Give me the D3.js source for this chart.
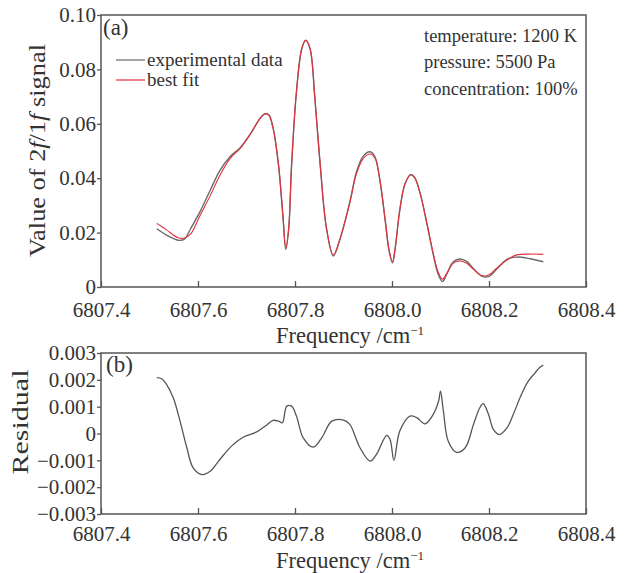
<!DOCTYPE html>
<html>
<head>
<meta charset="utf-8">
<script src="https://cdn.jsdelivr.net/npm/d3@7"></script>
<style>
  body { margin: 0; background: #fff; }
  svg text { font-family: "Liberation Serif", "Times New Roman", "DejaVu Serif", serif !important; fill: #333; }
</style>
</head>
<body>
<svg id="chart" width="630" height="573" font-family="Liberation Serif"></svg>
<script>
// Data
// (a) spectrum: shared frequency grid, fitted curve and measured curve
var freq = [6807.515, 6807.535, 6807.559, 6807.572, 6807.585, 6807.604, 6807.625, 6807.645, 6807.666, 6807.687,
            6807.707, 6807.728, 6807.738, 6807.746, 6807.755, 6807.766, 6807.775, 6807.781, 6807.787, 6807.793,
            6807.803, 6807.814, 6807.822, 6807.831, 6807.841, 6807.852, 6807.865, 6807.879, 6807.893, 6807.913,
            6807.927, 6807.941, 6807.955, 6807.965, 6807.975, 6807.986, 6807.994, 6808.001, 6808.006, 6808.016,
            6808.027, 6808.039, 6808.047, 6808.058, 6808.072, 6808.085, 6808.095, 6808.104, 6808.113, 6808.126,
            6808.140, 6808.154, 6808.168, 6808.185, 6808.199, 6808.216, 6808.237, 6808.257, 6808.285, 6808.312];
var bestFit = [0.0234, 0.0210, 0.0181, 0.0180, 0.0195, 0.0262, 0.0335, 0.0410, 0.0472, 0.0510,
               0.0559, 0.0620, 0.0636, 0.0632, 0.0583, 0.0449, 0.0265, 0.0142, 0.0216, 0.0449,
               0.0718, 0.0877, 0.0908, 0.0877, 0.0694, 0.0449, 0.0216, 0.0118, 0.0179, 0.0310,
               0.0418, 0.0473, 0.0489, 0.0473, 0.0393, 0.0246, 0.0136, 0.0093, 0.0136, 0.0283,
               0.0381, 0.0412, 0.0400, 0.0344, 0.0234, 0.0124, 0.0056, 0.0029, 0.0050, 0.0087,
               0.0096, 0.0087, 0.0065, 0.0042, 0.0044, 0.0069, 0.0099, 0.0118, 0.0121, 0.0120];
var experimental = [0.0214, 0.0191, 0.0172, 0.0176, 0.0215, 0.0276, 0.0355, 0.0428, 0.0479, 0.0512,
                    0.0560, 0.0620, 0.0637, 0.0633, 0.0583, 0.0448, 0.0262, 0.0138, 0.0214, 0.0448,
                    0.0717, 0.0876, 0.0906, 0.0876, 0.0693, 0.0448, 0.0214, 0.0114, 0.0177, 0.0312,
                    0.0425, 0.0482, 0.0497, 0.0478, 0.0393, 0.0244, 0.0133, 0.0089, 0.0134, 0.0282,
                    0.0380, 0.0414, 0.0402, 0.0345, 0.0232, 0.0120, 0.0048, 0.0020, 0.0048, 0.0092,
                    0.0103, 0.0094, 0.0068, 0.0040, 0.0038, 0.0066, 0.0102, 0.0110, 0.0104, 0.0093];

// (b) residual
var resFreq = [6807.515, 6807.525, 6807.535, 6807.549, 6807.563, 6807.577, 6807.590, 6807.608, 6807.625, 6807.645,
               6807.669, 6807.693, 6807.721, 6807.738, 6807.755, 6807.766, 6807.774, 6807.783, 6807.793, 6807.803,
               6807.817, 6807.838, 6807.855, 6807.876, 6807.900, 6807.913, 6807.934, 6807.955, 6807.968, 6807.989,
               6807.996, 6808.004, 6808.016, 6808.037, 6808.051, 6808.068, 6808.085, 6808.096, 6808.100, 6808.106,
               6808.116, 6808.133, 6808.151, 6808.168, 6808.181, 6808.188, 6808.199, 6808.209, 6808.221, 6808.237,
               6808.250, 6808.267, 6808.281, 6808.295, 6808.305, 6808.312];
var residual = [0.00208, 0.00204, 0.00183, 0.00133, 0.00046, -0.00053, -0.00128, -0.00153, -0.00141, -0.00097,
                -0.00047, -0.00014, 0.00006, 0.00027, 0.00049, 0.00046, 0.00040, 0.00102, 0.00102, 0.00065,
                -0.00016, -0.00051, -0.00016, 0.00046, 0.00050, 0.00034, -0.00053, -0.00103, -0.00078, -0.00007,
                -0.00022, -0.00100, 0.00009, 0.00065, 0.00059, 0.00036, 0.00071, 0.00120, 0.00158, 0.00083,
                -0.00029, -0.00070, -0.00053, 0.00034, 0.00096, 0.00111, 0.00071, 0.00015, -0.00004, 0.00021,
                0.00071, 0.00146, 0.00195, 0.00226, 0.00247, 0.00255];

var xTicks = [6807.4, 6807.6, 6807.8, 6808.0, 6808.2, 6808.4];
var yTicksA = [0, 0.02, 0.04, 0.06, 0.08, 0.10];
var yTicksB = [-0.003, -0.002, -0.001, 0, 0.001, 0.002, 0.003];
var legendLabels = ["experimental data", "best fit"];
var conditions = ["temperature: 1200 K", "pressure: 5500 Pa", "concentration: 100%"];

var svg = d3.select("#chart");
var left = 101, right = 586;
var frameColor = "#555";
var serif = "Liberation Serif";

var x = d3.scaleLinear().domain([6807.4, 6808.4]).range([left, right]);
var yA = d3.scaleLinear().domain([0, 0.10]).range([287, 15]);
var yB = d3.scaleLinear().domain([-0.003, 0.003]).range([514, 353]);

var curve = d3.curveCatmullRom.alpha(0.5);

function styleAxis(g) {
  g.attr("font-family", serif).attr("font-size", 21);
  g.select(".domain").remove();
  g.selectAll(".tick line").attr("stroke", frameColor).attr("stroke-width", 1.3);
  g.selectAll(".tick text").attr("fill", "#333");
}

function panel(y, yTicks, yFormat, labelPad) {
  var g = svg.append("g");
  g.append("g")
      .attr("transform", "translate(0," + y.range()[0] + ")")
      .call(d3.axisBottom(x).tickValues(xTicks).tickFormat(d3.format(".1f"))
          .tickSizeInner(-6).tickSizeOuter(0).tickPadding(labelPad))
      .call(styleAxis);
  g.append("g")
      .attr("transform", "translate(" + left + ",0)")
      .call(d3.axisLeft(y).tickValues(yTicks).tickFormat(yFormat)
          .tickSizeInner(4).tickSizeOuter(0).tickPadding(1))
      .call(styleAxis);
  g.append("rect")
      .attr("x", left).attr("y", y.range()[1])
      .attr("width", right - left).attr("height", y.range()[0] - y.range()[1])
      .attr("fill", "none").attr("stroke", frameColor).attr("stroke-width", 1.5);
  return g;
}

function freqTitle(yPos) {
  var t = svg.append("text").attr("x", 350).attr("y", yPos)
      .attr("text-anchor", "middle").attr("font-size", 22.5);
  t.append("tspan").text("Frequency /cm");
  t.append("tspan").attr("font-size", 13).attr("dy", -8).text("\u22121");
}

// ---- panel (a)
var gA = panel(yA, yTicksA, function(d) { return d === 0 ? "0" : d3.format(".2f")(d); }, 15);

var lineA = d3.line().curve(curve).x(function(d, i) { return x(freq[i]); });
gA.append("path")
    .attr("d", lineA.y(function(d) { return yA(d); })(experimental))
    .attr("fill", "none").attr("stroke", "#6b6b6b").attr("stroke-width", 1.4);
gA.append("path")
    .attr("d", lineA.y(function(d) { return yA(d); })(bestFit))
    .attr("fill", "none").attr("stroke", "#e2323c").attr("stroke-width", 1.1);

svg.append("text").attr("x", 103).attr("y", 35).attr("font-size", 23).text("(a)");

var legendColors = ["#6b6b6b", "#e2323c"];
legendLabels.forEach(function(lbl, i) {
  var ly = 60 + i * 20;
  svg.append("line").attr("x1", 116).attr("x2", 145).attr("y1", ly).attr("y2", ly)
      .attr("stroke", legendColors[i]).attr("stroke-width", 1.2);
  svg.append("text").attr("x", 147).attr("y", ly + 5.5).attr("font-size", 19).text(lbl);
});

conditions.forEach(function(c, i) {
  svg.append("text").attr("x", 424).attr("y", 41.5 + i * 26.7).attr("font-size", 18.5).text(c);
});

var yLabA = svg.append("text")
    .attr("transform", "translate(45,150.5) rotate(-90)")
    .attr("text-anchor", "middle").attr("font-size", 23)
    .attr("textLength", 213).attr("lengthAdjust", "spacingAndGlyphs");
yLabA.append("tspan").text("Value of 2");
yLabA.append("tspan").attr("font-style", "italic").text("f");
yLabA.append("tspan").text("/1");
yLabA.append("tspan").attr("font-style", "italic").text("f");
yLabA.append("tspan").text(" signal");

freqTitle(343);

// ---- panel (b)
var gB = panel(yB, yTicksB, function(d) { return d === 0 ? "0" : d3.format(".3f")(d); }, 12);

gB.append("path")
    .attr("d", d3.line().curve(curve)
        .x(function(d, i) { return x(resFreq[i]); })
        .y(function(d) { return yB(d); })(residual))
    .attr("fill", "none").attr("stroke", "#555").attr("stroke-width", 1.3);

svg.append("text").attr("x", 106).attr("y", 372).attr("font-size", 23).text("(b)");

svg.append("text")
    .attr("transform", "translate(28,422) rotate(-90)")
    .attr("text-anchor", "middle").attr("font-size", 23)
    .attr("textLength", 105).attr("lengthAdjust", "spacingAndGlyphs")
    .text("Residual");

freqTitle(568);
</script>
</body>
</html>
